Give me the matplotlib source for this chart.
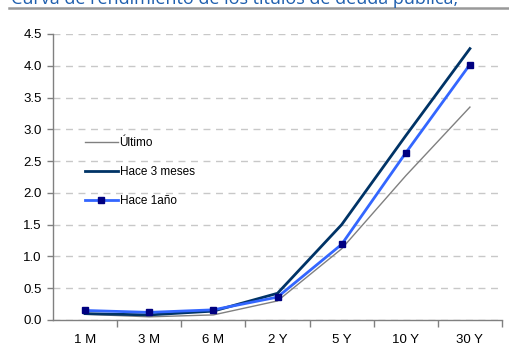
import matplotlib
matplotlib.use("Agg")
import matplotlib.pyplot as plt
from matplotlib.ticker import FixedLocator, MultipleLocator

plt.rcParams["font.family"] = ["Liberation Sans", "DejaVu Sans"]

# Yield curve data (%)
plazos = ["1 M", "3 M", "6 M", "2 Y", "5 Y", "10 Y", "30 Y"]
ultimo = [0.09, 0.05, 0.08, 0.30, 1.12, 2.27, 3.35]
hace_3_meses = [0.10, 0.08, 0.14, 0.42, 1.50, 2.90, 4.27]
hace_1_ano = [0.15, 0.12, 0.16, 0.36, 1.19, 2.63, 4.02]

titulo = "Curva de rendimiento de los títulos de deuda pública,"

fig = plt.figure(figsize=(5.09, 3.60), dpi=100)
ax = fig.add_axes([53 / 509, 1 - 320 / 360, (502 - 53) / 509, (320 - 34) / 360])

x = list(range(len(plazos)))
ax.plot(x, ultimo, color="#808080", lw=1.0, label="Último", zorder=3)
ax.plot(x, hace_3_meses, color="#003366", lw=2.0, label="Hace 3 meses", zorder=4)
ax.plot(x, hace_1_ano, color="#3366ff", lw=2.0, marker="s", markersize=4.5,
        markerfacecolor="#000080", markeredgecolor="#000080",
        label="Hace 1año", zorder=5)

ax.set_xlim(-0.5, len(plazos) - 0.5)
ax.set_ylim(0, 4.5)
ax.yaxis.set_major_locator(MultipleLocator(0.5))
ax.yaxis.set_major_formatter(plt.FuncFormatter(lambda v, p: f"{v:.1f}"))

ax.set_xticks(x)
ax.set_xticklabels(plazos)
ax.xaxis.set_minor_locator(FixedLocator([i + 0.5 for i in x]))
ax.tick_params(axis="x", which="major", length=0, pad=10, labelsize=9.5)
ax.tick_params(axis="x", which="minor", length=5, width=1, color="#808080", direction="out")
ax.tick_params(axis="y", length=4, width=1, color="#808080", labelsize=9.5, pad=4)

for sp in ("top", "right"):
    ax.spines[sp].set_visible(False)
for sp in ("left", "bottom"):
    ax.spines[sp].set_color("#808080")
    ax.spines[sp].set_linewidth(1.0)

ax.grid(axis="y", color="#c8c8c8", linestyle=(0, (5, 4)), linewidth=1.0, zorder=0)
ax.set_axisbelow(True)

leg = ax.legend(loc="upper left", bbox_to_anchor=(80 / 509, 1 - 132 / 360),
                bbox_transform=fig.transFigure, frameon=False, fontsize=8.5,
                handlelength=2.8, handletextpad=0.15, labelspacing=1.45,
                borderaxespad=0)

# Header: title text and rule beneath it
fig.text(11 / 509, 1 - 4.5 / 360, titulo, color="#1f5fae", fontsize=13,
         family=["Open Sans", "DejaVu Sans"], ha="left", va="baseline")
fig.add_artist(plt.Line2D([9 / 509, 1.0], [1 - 8.3 / 360, 1 - 8.3 / 360],
                          color="#999999", lw=1.8, transform=fig.transFigure))

fig.savefig("out.png", dpi=100)
